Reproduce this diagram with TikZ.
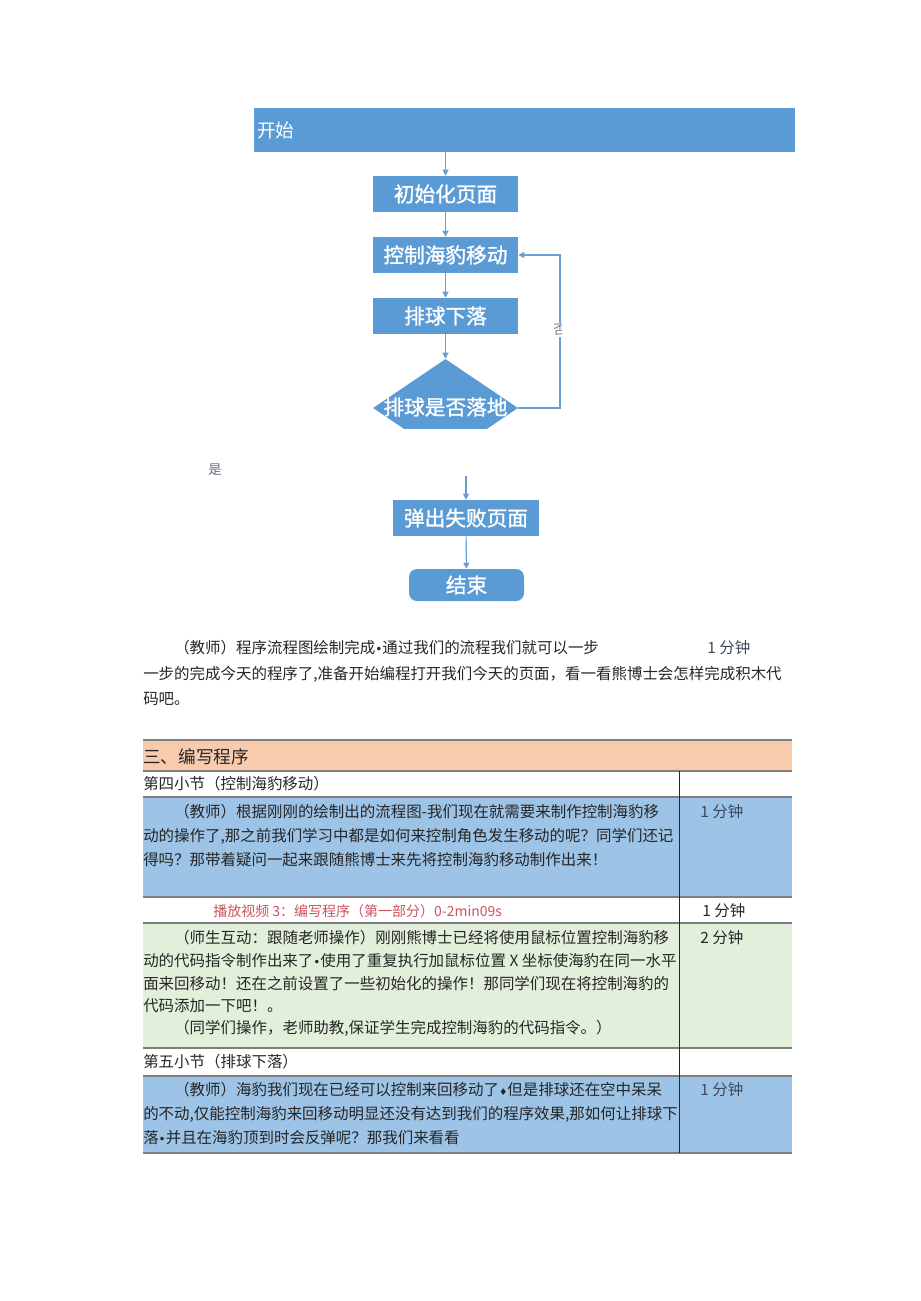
\documentclass[tikz,border=0pt]{standalone}
\usepackage{fontspec}
\setmainfont{Noto Sans CJK SC}
\newfontfamily\flowfont[FakeBold=1.2]{Noto Sans CJK SC}
\newfontfamily\symfont{DejaVu Sans}
\usepackage{tikz}
\usepackage{xcolor}
\usetikzlibrary{arrows.meta,positioning,shapes.geometric}
\definecolor{Flow}{HTML}{5B9BD5}
\definecolor{Wire}{HTML}{6A9FD3}
\definecolor{Peach}{HTML}{F8CBAD}
\definecolor{Sky}{HTML}{9DC3E6}
\definecolor{Mint}{HTML}{E2EFDA}
\definecolor{Rule}{HTML}{7F7F7F}
\definecolor{Ink}{HTML}{262626}
\definecolor{Slate}{HTML}{3B4A5C}
\definecolor{Rose}{HTML}{C9545E}
\newcommand{\dotsep}{{\symfont\small •}}
\newcommand{\diasep}{{\symfont\scriptsize ♦}}

\begin{document}
\begin{tikzpicture}[x=0.75pt,y=-0.75pt,
  box/.style={fill=Flow,text=white,minimum width=108.75pt,minimum height=27pt,inner sep=0pt,font=\fontsize{15.5}{17}\flowfont},
  flow/.style={draw=Wire,line width=0.85pt,-{Triangle[length=4.5pt,width=4.5pt]}},
  txt/.style={anchor=west,inner sep=0pt,text=Ink,font=\fontsize{11.6}{14}\selectfont},
  mins/.style={txt,text=Slate},
  rowline/.style={draw=Rule,line width=1.1pt}]
  \useasboundingbox (0,0) rectangle (920,1301);

  \node[box,minimum width=405.75pt,minimum height=33pt,text width=401.25pt,align=left,font=\fontsize{14}{16}\selectfont] (start) at (524.5,130) {开始};
  \node[box] (init) at (445.5,194) {初始化页面};
  \node[box] (move) at (445.5,255) {控制海豹移动};
  \node[box] (fall) at (445.5,316) {排球下落};
  \begin{scope}
    \clip (300,340) rectangle (600,428);
    \node[diamond,fill=Flow,minimum width=108.75pt,minimum height=73.5pt,inner sep=0pt] (dec) at (445.5,408) {};
    \node[text=white,font=\fontsize{15.5}{17}\flowfont] (declbl) at (445.5,407) {排球是否落地};
  \end{scope}
  \node[box,minimum width=109.5pt] (fail) at (466,518) {弹出失败页面};
  \node[box,minimum width=86.25pt,minimum height=24pt,rounded corners=6pt] (end) at (466.5,585) {结束};

  \coordinate (loop) at (560,330);
  \coordinate (yes) at (466,476);
  \draw[flow] (init.north |- start.south) -- (init.north);
  \draw[flow] (init) -- (move);
  \draw[flow] (move) -- (fall);
  \draw[flow] (fall.south) -- (dec.north);
  \draw[flow] (dec.east) -- (dec.east -| loop) -- (move.east -| loop) -- (move.east);
  \begin{scope}
    \clip (540,310) rectangle (561,350);
    \node[fill=white,inner sep=1pt,text=Slate!70,font=\fontsize{10}{12}\selectfont] (no) at (loop) {否};
  \end{scope}
  \node[text=Slate!80,font=\fontsize{10}{12}\selectfont] (yeslbl) at (215,470) {是};
  \draw[flow] (yes) -- (fail.north);
  \draw[flow] (fail) -- (end);

  % paragraph
  \node[txt] (p1) at (174,648) {（教师）程序流程图绘制完成\dotsep 通过我们的流程我们就可以一步};
  \node[mins] (m0) at (707,648) {1 分钟};
  \node[txt] (p2) at (143,674) {一步的完成今天的程序了,准备开始编程打开我们今天的页面，看一看熊博士会怎样完成积木代};
  \node[txt] (p3) at (143,699) {码吧。};

  % table
  \fill[Peach] (143,740) rectangle (792,771);
  \fill[Sky] (143,797) rectangle (792,897);
  \fill[Mint] (143,923) rectangle (792,1048);
  \fill[Sky] (143,1076) rectangle (792,1153);
  \foreach \y in {740,771,797,897,923,1048,1076,1153}
    \draw[rowline] (143,\y) -- (792,\y);
  \draw[draw=Ink,line width=0.75pt] (679,771) -- (679,1153);

  \node[txt,font=\fontsize{13.2}{15}\selectfont] (sec) at (143,757) {三、编写程序};
  \node[txt] (s4) at (143,784) {第四小节（控制海豹移动）};
  \node[txt] (a1) at (174,812) {（教师）根据刚刚的绘制出的流程图-我们现在就需要来制作控制海豹移};
  \node[txt] (a2) at (143,836) {动的操作了,那之前我们学习中都是如何来控制角色发生移动的呢？同学们还记};
  \node[txt] (a3) at (143,860) {得吗？那带着疑问一起来跟随熊博士来先将控制海豹移动制作出来！};
  \node[mins] (m1) at (700,812) {1 分钟};
  \node[txt,text=Rose,font=\fontsize{10.5}{13}\selectfont] (vid) at (213,911) {播放视频 3：编写程序（第一部分）0-2min09s};
  \node[txt] (m2) at (702,911) {1 分钟};
  \node[txt] (b1) at (174,938) {（师生互动：跟随老师操作）刚刚熊博士已经将使用鼠标位置控制海豹移};
  \node[txt] (b2) at (143,961) {动的代码指令制作出来了\dotsep 使用了重复执行加鼠标位置 X 坐标使海豹在同一水平};
  \node[txt] (b3) at (143,984) {面来回移动！还在之前设置了一些初始化的操作！那同学们现在将控制海豹的};
  \node[txt] (b4) at (143,1006) {代码添加一下吧！。};
  \node[txt] (b5) at (174,1028) {（同学们操作，老师助教,保证学生完成控制海豹的代码指令。）};
  \node[txt] (m3) at (700,938) {2 分钟};
  \node[txt] (s5) at (143,1062) {第五小节（排球下落）};
  \node[txt] (c1) at (174,1090) {（教师）海豹我们现在已经可以控制来回移动了\diasep 但是排球还在空中呆呆};
  \node[txt] (c2) at (143,1114) {的不动,仅能控制海豹来回移动明显还没有达到我们的程序效果,那如何让排球下};
  \node[txt] (c3) at (143,1138) {落\dotsep 并且在海豹顶到时会反弹呢？那我们来看看};
  \node[mins] (m4) at (700,1090) {1 分钟};
\end{tikzpicture}
\end{document}
